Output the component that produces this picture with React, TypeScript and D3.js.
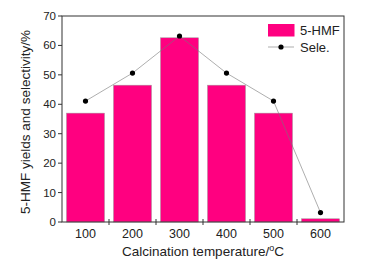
import React from "react";
import * as d3 from "d3";

const categories = ["100", "200", "300", "400", "500", "600"];
const yields = [37, 46.5, 62.6, 46.5, 37, 1.1];
const selectivity = [41.1, 50.6, 63.2, 50.6, 41.1, 3.2];
const yTicks = [0, 10, 20, 30, 40, 50, 60, 70];

const W = 370, H = 269;
const M = { left: 62, top: 16, right: 344, bottom: 222 };
const FONT = "'Liberation Sans', Arial, sans-serif";
const PINK = "#ff0080";

export default function App() {
  const x = d3.scaleBand<string>().domain(categories).range([M.left, M.right]).paddingInner(0.19).paddingOuter(0.095);
  const step = (M.right - M.left) / categories.length;
  const y = d3.scaleLinear().domain([0, 70]).range([M.bottom, M.top]);
  const line = d3.line<number>().x((_, i) => x(categories[i])! + x.bandwidth() / 2).y((d) => y(d));
  return (
    <svg width={W} height={H} style={{ position: "absolute", left: 0, top: 0, background: "#fff" }}>
      {categories.map((c, i) => (
        <rect key={c} x={x(c)} y={y(yields[i])} width={x.bandwidth()} height={M.bottom - y(yields[i])}
          fill={PINK} stroke="#a0a0a0" strokeWidth={0.5} />
      ))}
      <path d={line(selectivity) || ""} fill="none" stroke="#777" strokeWidth={0.6} />
      {selectivity.map((v, i) => (
        <circle key={i} cx={x(categories[i])! + x.bandwidth() / 2} cy={y(v)} r={2.6} fill="#000" />
      ))}
      <rect x={M.left} y={M.top} width={M.right - M.left} height={M.bottom - M.top} fill="none" stroke="#333" strokeWidth={1} />
      {yTicks.map((t) => (
        <g key={t}>
          <line x1={M.left - 4} x2={M.left} y1={y(t)} y2={y(t)} stroke="#333" strokeWidth={1} />
          <text x={M.left - 6} y={y(t)} dy="0.35em" textAnchor="end" fontFamily={FONT} fontSize={11.5} fill="#222">{t}</text>
        </g>
      ))}
      {categories.map((c, i) => (
        <g key={c}>
          {i > 0 && <line x1={M.left + step * i} x2={M.left + step * i} y1={M.bottom - 3} y2={M.bottom + 3} stroke="#333" strokeWidth={1} />}
          <text x={x(c)! + x.bandwidth() / 2} y={M.bottom + 16} textAnchor="middle" fontFamily={FONT} fontSize={12.5} fill="#222">{c}</text>
        </g>
      ))}
      <text x={(M.left + M.right) / 2} y={256} textAnchor="middle" fontFamily={FONT} fontSize={13.5} fill="#222">
        Calcination temperature/<tspan fontSize={9} dy={-5}>o</tspan><tspan dy={5}>C</tspan>
      </text>
      <text transform={`translate(30,${(M.top + M.bottom) / 2 + 3}) rotate(-90)`} textAnchor="middle" fontFamily={FONT} fontSize={13.5} fill="#222">
        5-HMF yields and selectivity/%
      </text>
      <rect x={268} y={24} width={26.5} height={12.5} fill={PINK} />
      <text x={300} y={35} fontFamily={FONT} fontSize={13} fill="#222">5-HMF</text>
      <line x1={268} x2={294} y1={47} y2={47} stroke="#777" strokeWidth={0.6} />
      <circle cx={281} cy={47} r={2.6} fill="#000" />
      <text x={300} y={51.5} fontFamily={FONT} fontSize={13} fill="#222">Sele.</text>
    </svg>
  );
}
